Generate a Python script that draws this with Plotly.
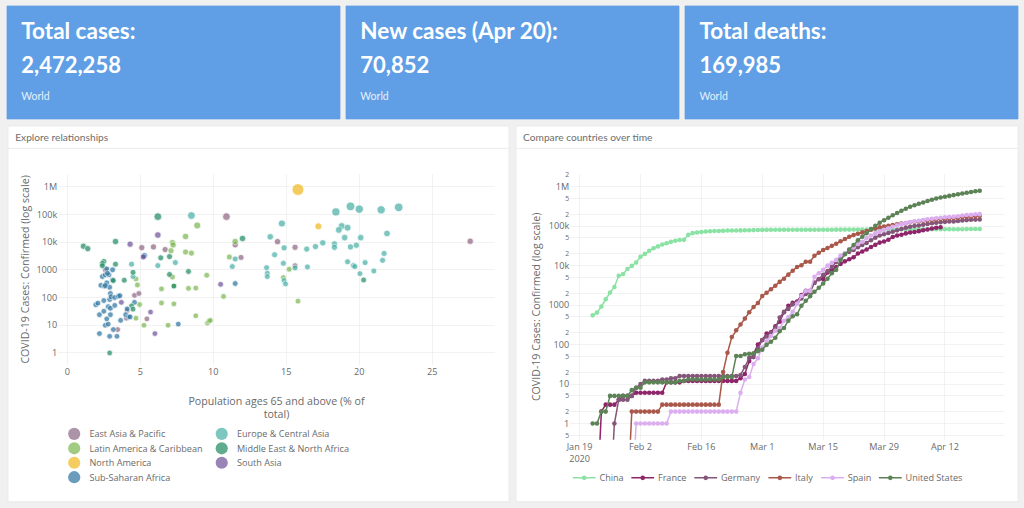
import pandas as pd
import plotly.graph_objects as go

REGIONS = ["East Asia & Pacific", "Latin America & Caribbean", "North America", "Sub-Saharan Africa",
           "Europe & Central Asia", "Middle East & North Africa", "South Asia"]

eap_x = [10.9, 11.9, 11.5, 5.1, 5.9, 6.7, 4.6, 4.9, 3.45, 5.45, 4.1, 4.05, 2.6, 14.4, 15.6, 15.6, 27.6]
eap_y = [83000, 2800, 8000, 6300, 6700, 5400, 120, 140, 7, 17, 34, 18, 1000, 10400, 6500, 1400, 10700]
lac_x = [8.9, 8.1, 7.2, 7.25, 7.1, 8.1, 8.5, 11.5, 11.1, 9.55, 7.2, 4.7, 4.8, 6.45, 8.3, 8.8, 10.7, 4.95, 6.45, 7.3,
         8.8, 4.7, 5.25, 6.9, 9.6, 9.7, 9.8, 15.2, 14.8, 15.8, 7.3]
lac_y = [40000, 16000, 9600, 7900, 4900, 4400, 4000, 10500, 2900, 640, 550, 470, 285, 205, 215, 220, 110, 56, 64, 59,
         22, 18, 10, 10, 12, 14, 15, 1050, 525, 74, 260]
nam_x = [15.8, 17.2]
nam_y = [790000, 37000]
ssa_x = [5.3, 5.25, 11.5, 7.6, 4.6, 2.2, 2.9, 3.4, 3.15, 2.6, 2.8, 2.7, 3.65, 2.2, 2.5, 2.95, 2.8, 2.95, 3.25, 1.95,
         2.1, 2.5, 2.9, 2.95, 3.0, 3.25, 3.5, 3.6, 2.3, 2.55, 2.7, 2.9, 2.4, 2.6, 2.85, 2.7, 2.75, 3.1, 3.1, 4.1,
         4.0, 4.2, 4.3, 2.6]
ssa_y = [3300, 3200, 320, 11, 67, 5, 4, 4, 7, 10, 11, 17, 15, 24, 32, 24, 47, 41, 52, 55,
         63, 78, 85, 140, 107, 100, 112, 117, 276, 257, 340, 235, 570, 660, 660, 1080, 750, 1000, 430, 39,
         24, 20, 20, 270]
eca_x = [8.5, 4.4, 6.2, 7.4, 11.3, 11.5, 4.5, 18.4, 19.4, 20.0, 21.5, 22.7, 14.7, 13.9, 18.8, 19.2, 18.6, 19.0, 20.1, 21.9,
         14.85, 16.4, 17.0, 17.5, 18.3, 18.3, 19.4, 19.8, 14.2, 21.7, 21.6, 19.2, 20.4, 14.8, 13.65, 15.6, 16.45, 19.6, 19.7, 21.0,
         20.05, 13.7, 13.7, 14.85, 14.95]
eca_y = [91000, 1600, 1420, 1820, 1310, 2460, 570, 123000, 195000, 155000, 146000, 180000, 47000, 15500, 38000, 33000, 27500, 14500, 14500, 20500,
         6200, 5600, 6900, 9400, 8600, 6500, 6700, 7700, 3500, 3900, 2200, 1950, 1820, 1720, 1200, 1170, 1270, 1420, 1310, 910,
         730, 750, 570, 410, 310]
mna_x = [1.1, 1.4, 3.3, 6.2, 2.5, 2.4, 2.4, 3.3, 6.4, 7.0, 12.0, 7.0, 8.3, 4.5, 3.9, 3.15, 2.9, 4.4, 4.5, 7.3, 20.3]
mna_y = [7100, 5800, 10500, 83000, 2000, 1700, 1400, 1600, 2700, 3000, 13500, 680, 870, 810, 420, 410, 1, 50, 38, 260, 430]
sas_x = [6.2, 4.3, 5.2, 10.5, 3.7, 5.7, 6.0]
sas_y = [18000, 8400, 2900, 300, 67, 30, 5]

COUNTRIES = ["China", "France", "Germany", "Italy", "Spain", "United States"]
START_DATE = "2020-01-22"
china = [548, 643, 920, 1406, 2075, 2877, 5509, 6087, 8141, 9802,
         11891, 16630, 19716, 23707, 27440, 30587, 34110, 36814, 39829, 42354,
         44386, 44759, 59895, 66358, 68413, 70513, 72434, 74211, 74619, 75077,
         75550, 77001, 77022, 77241, 77754, 78166, 78600, 78928, 79356, 79932,
         80136, 80261, 80386, 80537, 80690, 80770, 80823, 80860, 80887, 80921,
         80932, 80945, 80977, 81003, 81033, 81058, 81102, 81156, 81250, 81305,
         81435, 81498, 81591, 81661, 81782, 81897, 81999, 82122, 82198, 82279,
         82361, 82432, 82511, 82543, 82602, 82665, 82718, 82809, 82883, 82941,
         83014, 83134, 83213, 83306, 83356, 83403, 83760, 83787, 83805, 83817]
france = [0, 0, 2, 3, 3, 3, 4, 5, 5, 5,
          6, 6, 6, 6, 6, 6, 6, 11, 11, 11,
          11, 12, 12, 12, 12, 12, 12, 12, 12, 12,
          12, 12, 12, 12, 14, 18, 38, 57, 100, 130,
          191, 204, 288, 380, 656, 959, 1136, 1219, 1794, 2293,
          2293, 3681, 4496, 4532, 6683, 7715, 9124, 10970, 12758, 14463,
          16243, 20123, 22622, 25600, 29551, 33402, 38105, 40708, 45170, 52827,
          57749, 59929, 65202, 68605, 70478, 74390, 78167, 82048, 86334, 90676, 93790]
germany = [0, 0, 0, 0, 0, 1, 4, 4, 4, 5,
           8, 10, 12, 12, 12, 12, 13, 13, 14, 14,
           16, 16, 16, 16, 16, 16, 16, 16, 16, 16,
           16, 16, 16, 16, 17, 27, 46, 48, 79, 130,
           159, 196, 262, 482, 670, 799, 1040, 1176, 1457, 1908,
           2078, 3675, 4585, 5795, 7272, 9257, 12327, 15320, 19848, 22213,
           24873, 29056, 32986, 37323, 43938, 50871, 57695, 62095, 66885, 71808,
           77872, 84794, 91159, 96092, 100123, 103374, 107663, 113296, 118181, 122171,
           124908, 127854, 130072, 131359, 134753, 137698, 141397, 143724, 145742, 147065]
italy = [0, 0, 0, 0, 0, 0, 0, 0, 0, 2,
         2, 2, 2, 2, 2, 2, 3, 3, 3, 3,
         3, 3, 3, 3, 3, 3, 3, 3, 3, 3,
         20, 62, 155, 229, 322, 453, 655, 888, 1128, 1694,
         2036, 2502, 3089, 3858, 4636, 5883, 7375, 9172, 10149, 12462,
         12462, 17660, 21157, 24747, 27980, 31506, 35713, 41035, 47021, 53578,
         59138, 63927, 69176, 74386, 80589, 86498, 92472, 97689, 101739, 105792,
         110574, 115242, 119827, 124632, 128948, 132547, 135586, 139422, 143626, 147577,
         152271, 156363, 159516, 162488, 165155, 168941, 172434, 175925, 178972, 181228]
spain = [0, 0, 0, 0, 0, 0, 0, 0, 0, 0,
         1, 1, 1, 1, 1, 1, 1, 1, 2, 2,
         2, 2, 2, 2, 2, 2, 2, 2, 2, 2,
         2, 2, 2, 2, 6, 13, 15, 32, 45, 84,
         120, 165, 222, 259, 400, 500, 673, 1073, 1695, 2277,
         2277, 5232, 6391, 7798, 9942, 11748, 13910, 17963, 20410, 25374,
         28768, 35136, 39885, 49515, 57786, 65719, 73235, 80110, 87956, 95923,
         104118, 112065, 119199, 126168, 131646, 136675, 141942, 148220, 153222, 158273,
         163027, 166831, 170099, 172541, 177644, 184948, 190839, 191726, 198674, 200210]
usa = [1, 1, 2, 2, 5, 5, 5, 5, 5, 7,
       8, 8, 11, 11, 11, 11, 11, 11, 11, 11,
       12, 12, 13, 13, 13, 13, 13, 13, 13, 13,
       15, 15, 15, 51, 51, 57, 58, 60, 68, 74,
       98, 118, 149, 217, 262, 402, 518, 583, 959, 1281,
       1663, 2179, 2727, 3499, 4632, 6421, 7783, 13747, 19273, 25600,
       33276, 43847, 53740, 65778, 83836, 101657, 121465, 140909, 161831, 188172,
       213372, 243616, 275586, 308850, 337072, 366667, 396223, 429052, 461437, 496535,
       526396, 555313, 580619, 607670, 636350, 667592, 699706, 732197, 759086, 784326]

CARD_TITLES = ["Total cases:", "New cases (Apr 20):", "Total deaths:"]
CARD_VALUES = ["2,472,258", "70,852", "169,985"]
CARD_SUB = "World"
PANEL_TITLES = ["Explore relationships", "Compare countries over time"]

# ---------- page geometry: drawn at the original size, scaled to the window
W, H = 1347, 668
SCALE = 1024 / W
def fx(p): return p / 1024
def fy(p): return 1 - p / 508
def fs(p): return p / SCALE

BG = "#f0f0f0"
BLUE = "#609fe6"
TXT = "#6a6a6a"
GRID = "#eeeeee"
CHART_FONT = "Open Sans"
HEAD_FONT = "Lato"

shapes, annos = [], []
def rect(x0, y0, x1, y1, fill, line=None):
    shapes.append(dict(type="rect", xref="paper", yref="paper", x0=fx(x0), x1=fx(x1), y0=fy(y1), y1=fy(y0),
                       fillcolor=fill, line=dict(color=line or fill, width=1), layer="below"))
def text(x, y, s, size, color, bold=False):
    annos.append(dict(xref="paper", yref="paper", x=fx(x), y=fy(y), xanchor="left", yanchor="middle",
                      text=f"<b>{s}</b>" if bold else s, showarrow=False, align="left",
                      font=dict(family=HEAD_FONT, size=fs(size), color=color)))

for i, x0 in enumerate([7, 346, 685]):
    rect(x0, 6, x0 + 333, 119, BLUE)
    text(x0 + 13, 30, CARD_TITLES[i], 22.5, "white", True)
    text(x0 + 13, 64, CARD_VALUES[i], 22, "white", True)
    text(x0 + 13, 96, CARD_SUB, 10.5, "#e6f0fb")

for (x0, x1), title in zip([(8, 509), (516, 1018)], PANEL_TITLES):
    rect(x0, 126, x1, 502, "white", "#e6e6e6")
    shapes.append(dict(type="line", xref="paper", yref="paper", x0=fx(x0), x1=fx(x1), y0=fy(148.5), y1=fy(148.5),
                       line=dict(color="#e6e6e6", width=1), layer="below"))
    text(x0 + 5.5, 138, title, 10.2, "#6e6e6e")

fig = go.Figure()

def msize(v):
    return 7.5 + 8 * (v / 790000) ** 0.5

region_data = [(eap_x, eap_y, "#8e6985", "legend"), (lac_x, lac_y, "#7eb854", "legend"),
               (nam_x, nam_y, "#f1b821", "legend"), (ssa_x, ssa_y, "#3077a2", "legend"),
               (eca_x, eca_y, "#4cb1a9", "legend2"), (mna_x, mna_y, "#218d62", "legend2"),
               (sas_x, sas_y, "#70549b", "legend2")]
for name, (xs, ys, col, leg) in zip(REGIONS, region_data):
    fig.add_trace(go.Scatter(x=xs, y=ys, mode="markers", name=name, showlegend=False, xaxis="x", yaxis="y",
                             marker=dict(size=[msize(v) for v in ys], color=col, opacity=0.72)))
    # legend key at the full key size, independent of the data-sized points
    fig.add_trace(go.Scatter(x=[None], y=[None], mode="markers", name=name, legend=leg, xaxis="x", yaxis="y",
                             marker=dict(size=16, color=col, opacity=0.72)))

line_colors = ["#8ae2a4", "#8e2469", "#84567a", "#a9584a", "#dcaef0", "#5c8256"]
for name, ys, col in zip(COUNTRIES, [china, france, germany, italy, spain, usa], line_colors):
    dates = pd.date_range(START_DATE, periods=len(ys))
    fig.add_trace(go.Scatter(x=dates, y=[v if v > 0 else 0.01 for v in ys], mode="lines+markers", name=name,
                             legend="legend3", xaxis="x2", yaxis="y2",
                             line=dict(color=col, width=2), marker=dict(color=col, size=6)))

axis_font = dict(family=CHART_FONT, size=12, color=TXT)
title_font = dict(family=CHART_FONT, size=14, color=TXT)
legend_common = dict(bgcolor="rgba(0,0,0,0)", font=dict(family=CHART_FONT, size=12, color=TXT),
                     tracegroupgap=0, xanchor="left", yanchor="top", itemclick=False)

fig.update_layout(
    width=W, height=H, autosize=False, margin=dict(l=0, r=0, t=0, b=0),
    paper_bgcolor=BG, plot_bgcolor="white", shapes=shapes, annotations=annos,
    font=dict(family=CHART_FONT, color=TXT),
    xaxis=dict(domain=[fx(58), fx(495)], range=[-0.64, 29.3], dtick=5, tick0=0, gridcolor=GRID, zeroline=False,
               showline=False, ticks="", tickfont=axis_font, anchor="y", automargin=False,
               title=dict(text="Population ages 65 and above (% of<br>total)", font=title_font, standoff=26)),
    yaxis=dict(domain=[fy(365), fy(174)], type="log", range=[-0.43, 6.46], dtick=1, gridcolor=GRID, zeroline=False,
               showline=False, ticks="", tickfont=axis_font, anchor="x", automargin=False,
               title=dict(text="COVID-19 Cases: Confirmed (log scale)", font=title_font, standoff=5)),
    xaxis2=dict(domain=[fx(570), fx(1004)], type="date", range=["2020-01-16 19:00", "2020-04-25 14:00"],
                tick0="2020-01-19", dtick=14 * 86400000, gridcolor=GRID, zeroline=False, showline=False, ticks="",
                tickfont=axis_font, anchor="y2", automargin=False),
    yaxis2=dict(domain=[fy(440), fy(174)], type="log", range=[-0.414, 6.32], dtick="D2", gridcolor=GRID, zeroline=False,
                showline=False, ticks="", tickfont=axis_font, anchor="x2", automargin=False,
                title=dict(text="COVID-19 Cases: Confirmed (log scale)", font=title_font, standoff=6)),
    legend=dict(x=fx(59), y=fy(423), **legend_common),
    legend2=dict(x=fx(206.5), y=fy(423), **legend_common),
    legend3=dict(orientation="h", x=fx(569), y=fy(467), **legend_common),
    showlegend=True,
)

post = f"""
document.documentElement.style.overflow='hidden';
document.documentElement.style.background='{BG}';
document.body.style.margin='0';
document.body.style.background='{BG}';
var g=document.querySelector('.plotly-graph-div');
g.style.transformOrigin='0 0';
g.style.transform='scale({SCALE})';
"""
fig.write_html("out.html", post_script=post, config=dict(displayModeBar=False))
